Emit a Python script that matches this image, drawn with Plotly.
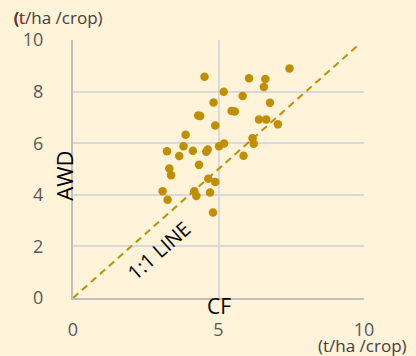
import plotly.graph_objects as go

# Yield data (t/ha/crop): CF (x) vs AWD (y)
cf = [4.52, 7.44, 6.05, 6.61, 6.56, 5.18, 5.83, 4.83, 6.77, 4.30, 4.37, 5.45, 5.56,
      6.39, 6.64, 7.04, 4.89, 3.87, 6.17, 6.21, 3.80, 5.19, 5.02, 3.23, 4.12, 3.65,
      4.63, 4.58, 5.86, 4.33, 3.31, 3.37, 4.65, 4.89, 3.08, 3.25, 4.17, 4.24, 4.71, 4.81]
awd = [8.58, 8.90, 8.52, 8.49, 8.18, 7.99, 7.83, 7.58, 7.57, 7.07, 7.05, 7.25, 7.23,
       6.92, 6.92, 6.73, 6.69, 6.33, 6.19, 5.98, 5.88, 5.99, 5.88, 5.69, 5.71, 5.50,
       5.76, 5.67, 5.51, 5.16, 5.02, 4.76, 4.62, 4.50, 4.14, 3.81, 4.14, 3.95, 4.09, 3.31]

line_x = [0, 9.85]
line_y = [0, 9.85]

x_ticks = [0, 5, 10]
y_ticks = [0, 2, 4, 6, 8, 10]

bg = "#FFF3D9"
gold = "#BF8F00"
font = "Open Sans"
unit_gray = "#404040"

fig = go.Figure()
fig.add_trace(go.Scatter(x=line_x, y=line_y, mode="lines",
                         line=dict(color=gold, width=2, dash="7px,5px"),
                         hoverinfo="skip", showlegend=False))
fig.add_trace(go.Scatter(x=cf, y=awd, mode="markers",
                         marker=dict(color=gold, size=8.5),
                         showlegend=False))

fig.update_layout(
    width=416, height=356,
    margin=dict(l=73, r=52, t=40, b=58, autoexpand=False),
    paper_bgcolor=bg, plot_bgcolor=bg,
    font=dict(family=font, color="#595959", size=18),
    xaxis=dict(range=[0, 10], tickvals=x_ticks, ticktext=[str(v) for v in x_ticks],
               showgrid=True, gridcolor="#D9D9D9", gridwidth=1.5,
               showline=True, linecolor="#BFBFBF", linewidth=2,
               ticks="outside", ticklen=14, tickcolor="rgba(0,0,0,0)",
               zeroline=False, automargin=False,
               tickfont=dict(size=18, color="#595959")),
    yaxis=dict(range=[0, 10], tickvals=y_ticks, ticktext=[str(v) for v in y_ticks],
               showgrid=True, gridcolor="#D9D9D9", gridwidth=1.5,
               showline=True, linecolor="#BFBFBF", linewidth=2,
               ticks="outside", ticklen=24, tickcolor="rgba(0,0,0,0)",
               zeroline=False, automargin=False,
               tickfont=dict(size=18, color="#595959")),
)

# Axis titles as annotations
fig.add_annotation(text="AWD", xref="paper", yref="paper", x=-0.03, y=0.475,
                   xanchor="center", yanchor="middle", textangle=-90, showarrow=False,
                   font=dict(family=font, size=22, color="#000000"))
fig.add_annotation(text="CF", xref="paper", yref="paper", x=0.5, y=0.0,
                   xanchor="center", yanchor="top", showarrow=False, yshift=8,
                   font=dict(family=font, size=21, color="#000000"))
fig.add_annotation(text="1:1 LINE", xref="x", yref="y", x=2.95, y=1.85,
                   xanchor="center", yanchor="middle", textangle=-41.5, showarrow=False,
                   font=dict(family=font, size=20, color="#000000"))

# Top-left unit label with a red "t": gray full text, red "(t" overlay, gray "(" overlay
unit_kw = dict(xref="paper", yref="paper", x=-0.21, y=1.0, xanchor="left",
               yanchor="bottom", yshift=9, showarrow=False)
fig.add_annotation(text="(t/ha /crop)", font=dict(family=font, size=17, color=unit_gray), **unit_kw)
fig.add_annotation(text="(t", font=dict(family=font, size=17, color="#FF0000"), **unit_kw)
fig.add_annotation(text="(", font=dict(family=font, size=17, color=unit_gray), **unit_kw)
fig.add_annotation(text="(", font=dict(family=font, size=17, color=unit_gray), **unit_kw)

fig.add_annotation(text="(t/ha /crop)", xref="paper", yref="paper", x=1.155, y=0.0,
                   xanchor="right", yanchor="top", yshift=-34, showarrow=False,
                   font=dict(family=font, size=17, color=unit_gray))

post_js = """
document.body.style.margin = '0';
document.body.style.background = '#FFF3D9';
"""

fig.write_html("out.html", config={"displayModeBar": False}, post_script=post_js)
